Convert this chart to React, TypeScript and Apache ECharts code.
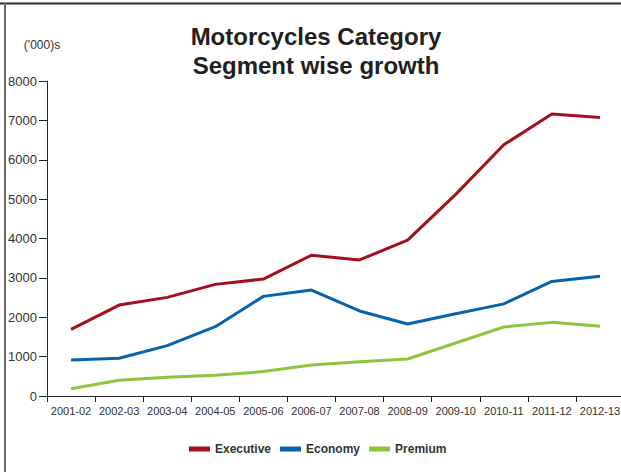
import React, { useEffect, useRef } from "react";
import * as echarts from "echarts";

const categories = [
  "2001-02", "2002-03", "2003-04", "2004-05", "2005-06", "2006-07",
  "2007-08", "2008-09", "2009-10", "2010-11", "2011-12", "2012-13",
];
const executive = [1690, 2310, 2505, 2835, 2970, 3575, 3455, 3960, 5120, 6380, 7160, 7075];
const economy = [915, 960, 1280, 1760, 2530, 2690, 2160, 1830, 2090, 2340, 2910, 3040];
const premium = [185, 400, 475, 525, 620, 790, 870, 940, 1345, 1752, 1870, 1770];
const seriesNames = ["Executive", "Economy", "Premium"];
const colors = ["#A3101C", "#0763AD", "#8CC63F"];

export default function App() {
  const ref = useRef<HTMLDivElement>(null);
  useEffect(() => {
    if (!ref.current) return;
    const chart = echarts.init(ref.current, null, { renderer: "svg" });
    const font = "'Liberation Sans', Arial, Helvetica, sans-serif";
    const data = [executive, economy, premium];
    chart.setOption({
      animation: false,
      backgroundColor: "#ffffff",
      textStyle: { fontFamily: font },
      title: {
        text: "Motorcycles Category\nSegment wise growth",
        left: 311,
        top: 17,
        textAlign: "center",
        textStyle: {
          fontFamily: font,
          fontSize: 24,
          fontWeight: "bold",
          color: "#231f20",
          lineHeight: 29,
        },
      },
      legend: {
        data: seriesNames,
        left: 184,
        top: 438,
        itemWidth: 21,
        itemHeight: 5,
        itemGap: 9,
        icon: "rect",
        textStyle: {
          fontFamily: font,
          fontSize: 12,
          fontWeight: "bold",
          color: "#333",
          width: 76,
        },
      },
      grid: { left: 47, right: 0, top: 81, bottom: 76, containLabel: false },
      xAxis: {
        type: "category",
        data: categories,
        boundaryGap: true,
        axisLine: { lineStyle: { color: "#222", width: 1 } },
        axisTick: { show: true, length: 6, alignWithLabel: false, lineStyle: { color: "#222" } },
        axisLabel: { fontFamily: font, fontSize: 11, color: "#333", margin: 9, interval: 0 },
        splitLine: { show: false },
      },
      yAxis: {
        type: "value",
        min: 0,
        max: 8000,
        interval: 1000,
        name: "('000)s",
        nameLocation: "end",
        nameGap: 30,
        nameTextStyle: {
          fontFamily: font,
          fontSize: 12,
          color: "#333",
          padding: [0, 10, 0, 0],
        },
        axisLine: { show: true, lineStyle: { color: "#222", width: 1 } },
        axisTick: { show: true, length: 8, lineStyle: { color: "#222" } },
        axisLabel: {
          fontFamily: font,
          fontSize: 13,
          color: "#333",
          margin: 10,
          formatter: (v: number) => String(v),
        },
        splitLine: { show: false },
      },
      series: seriesNames.map((name, i) => ({
        name,
        type: "line",
        data: data[i],
        color: colors[i],
        symbol: "none",
        smooth: false,
        lineStyle: { width: 3, color: colors[i] },
      })),
      graphic: [
        { type: "rect", shape: { x: 0, y: 2.5, width: 626, height: 2 }, style: { fill: "#2a2a2a" } },
        { type: "rect", shape: { x: 4, y: 3, width: 2, height: 469 }, style: { fill: "#6a6a6a" } },
      ],
    });
    return () => chart.dispose();
  }, []);
  return (
    <div
      style={{
        position: "fixed",
        left: 0,
        top: 0,
        width: 621,
        height: 472,
        overflow: "hidden",
        background: "#fff",
      }}
    >
      <div ref={ref} style={{ width: 624, height: 472 }} />
    </div>
  );
}
